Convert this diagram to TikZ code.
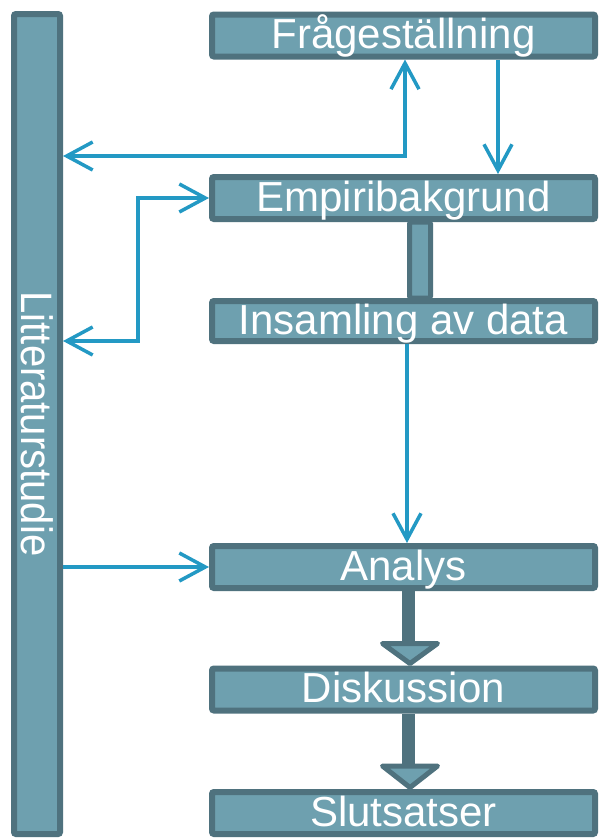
\documentclass[tikz,border=0pt]{standalone}
\usepackage{fontspec}
\setmainfont{Liberation Sans}
\usepackage{graphicx}
\usetikzlibrary{arrows.meta,calc}

\definecolor{boxfill}{HTML}{6EA0AF}
\definecolor{boxline}{HTML}{4F727E}
\definecolor{linkblue}{HTML}{2399C4}

\tikzset{barb/.tip={Straight Barb[length=26pt,width=28pt]}}

\begin{document}
\begin{tikzpicture}[x=1pt,y=-1pt,
  stage/.style={draw=boxline, fill=boxfill, line width=6pt, rounded corners=2pt,
    minimum width=383pt, minimum height=42pt, inner sep=0pt, text=white,
    font=\fontsize{42}{42}\selectfont, text height=29pt, text depth=3pt},
  sidebar/.style={draw=boxline, fill=boxfill, line width=6pt, rounded corners=2pt,
    minimum width=46pt, minimum height=820pt, inner sep=0pt, text=white,
    font=\fontsize{40}{40}\selectfont},
  link/.style={draw=linkblue, line width=3.5pt, -barb},
  twoway/.style={draw=linkblue, line width=3.5pt, barb-barb},
  stem/.style={draw=boxline, fill=boxfill, line width=5pt, rounded corners=2pt},
  head/.style={draw=boxline, fill=boxfill, line width=5pt, line join=round},
]
\fill[white] (0,0) rectangle (600,838);
\useasboundingbox (0,0) rectangle (600,838);

% literature study running alongside the whole process
\node[sidebar] (lit) at (37,424) {\rotatebox{-90}{\scalebox{1}[1.1]{Litteraturstudie}}};

% process stages
\node[stage] (fraga)  at (403.5,35.5) {Frågeställning};
\node[stage] (empiri) at (403.5,198)  {Empiribakgrund};
\node[stage, minimum height=40pt] (insam) at (403.5,321) {Insamling av data};
\node[stage] (analys) at (403.5,567)  {Analys};
\node[stage] (disk)   at (403.5,689.5) {Diskussion};
\node[stage] (slut)   at (403.5,813)  {Slutsatser};

% thick stem between background and data collection
\draw[stem] ($(empiri.south)+(6,0)$) rectangle ($(insam.north)+(27,0)$);

% block arrows
\fill[boxline] ($(analys.south)+(-1.5,0)$) rectangle ($(analys.south)+(11.5,52.5)$);
\draw[head] ($(analys.south)+(-21,52.5)$) -- ($(analys.south)+(34,52.5)$)
  -- ($(analys.south)+(6.5,72.5)$) -- cycle;
\fill[boxline] ($(disk.south)+(-1.5,0)$) rectangle ($(disk.south)+(11.5,52.5)$);
\draw[head] ($(disk.south)+(-21,52.5)$) -- ($(disk.south)+(34,52.5)$)
  -- ($(disk.south)+(6.5,74)$) -- cycle;

% thin connectors
\draw[twoway] ([xshift=1.5pt]fraga.south) |- ([yshift=268pt]lit.east);
\draw[link] ([xshift=94.5pt]fraga.south) -- ([xshift=94.5pt]empiri.north);
\draw[twoway] ([yshift=83pt]lit.east) -- ++(75pt,0) |- (empiri.west);
\draw[link] ([xshift=3.5pt]insam.south) -- ([xshift=3.5pt]analys.north);
\draw[link] ([yshift=-143pt]lit.east) -- (analys.west);
\end{tikzpicture}
\end{document}
